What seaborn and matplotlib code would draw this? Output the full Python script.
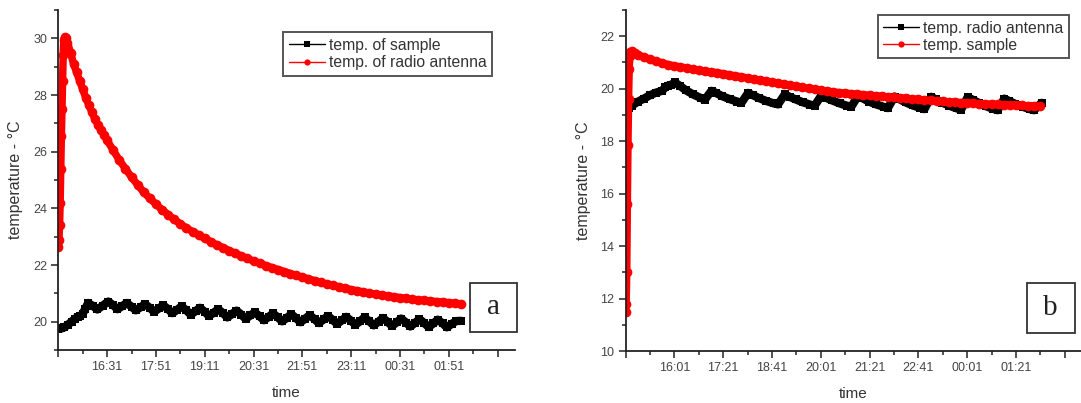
import matplotlib
matplotlib.use("Agg")
import matplotlib.pyplot as plt
import seaborn as sns
import pandas as pd
from matplotlib.ticker import FixedLocator, MultipleLocator
from matplotlib.patches import Rectangle

# ---------------- data (minutes after the start of logging, degrees C) ----------------
# panel a: start of logging 15:11
a_sample_min = [0, 5, 10, 16, 22, 27, 32, 36, 40, 44, 49,
                57, 64, 73, 82, 90, 97, 105, 112, 120, 127, 135, 142, 150, 157,
                165, 172, 180, 187, 195, 202, 210, 217, 225, 232, 240, 247, 255,
                262, 270, 277, 285, 292, 300, 307, 315, 322, 330, 337, 345, 352,
                360, 367, 375, 382, 390, 397, 405, 412, 420, 427, 435, 442, 450,
                457, 465, 472, 480, 487, 495, 502, 510, 517, 525, 532, 540, 547,
                555, 562, 570, 577, 585, 592, 600, 607, 615, 622, 630, 637, 645,
                652, 660]
a_sample_temp = [19.75, 19.76, 19.80, 19.90, 20.00, 20.10, 20.17, 20.20, 20.28, 20.45, 20.66,
                 20.55, 20.43, 20.57, 20.71, 20.58, 20.44, 20.55, 20.66, 20.53, 20.40, 20.51,
                 20.62, 20.49, 20.35, 20.47, 20.58, 20.44, 20.30, 20.42, 20.54, 20.40, 20.25,
                 20.37, 20.49, 20.35, 20.20, 20.32, 20.44, 20.30, 20.15, 20.27, 20.39, 20.25,
                 20.10, 20.22, 20.33, 20.19, 20.05, 20.17, 20.29, 20.15, 20.01, 20.14, 20.26,
                 20.12, 19.98, 20.11, 20.23, 20.09, 19.95, 20.08, 20.20, 20.06, 19.92, 20.05,
                 20.17, 20.03, 19.89, 20.02, 20.15, 20.01, 19.87, 20.00, 20.13, 19.99, 19.85,
                 19.98, 20.11, 19.97, 19.83, 19.96, 20.09, 19.95, 19.81, 19.94, 20.07, 19.94,
                 19.80, 19.92, 20.02, 20.03]

a_antenna_min = [0, 1, 2, 3, 4, 5, 6, 7, 8, 9, 11, 13, 15, 20, 25, 30, 35, 40, 45, 50,
                 55, 60, 65, 70, 75, 80, 90, 100, 110, 120, 130, 140, 150, 160, 170, 180,
                 190, 200, 210, 220, 230, 240, 250, 260, 270, 280, 290, 300, 310, 320,
                 330, 340, 350, 360, 370, 380, 390, 400, 410, 420, 430, 440, 450, 460,
                 470, 480, 490, 500, 510, 520, 530, 540, 550, 560, 570, 580, 590, 600,
                 610, 620, 630, 640, 650, 660]
a_antenna_temp = [22.65, 22.90, 23.40, 24.20, 25.40, 26.55, 27.50, 28.50, 29.40, 29.95,
                  30.05, 30.00, 29.85, 29.50, 29.10, 28.80, 28.50, 28.20, 27.90, 27.65,
                  27.40, 27.15, 26.95, 26.75, 26.60, 26.40, 26.05, 25.70, 25.40, 25.10,
                  24.83, 24.57, 24.35, 24.15, 23.95, 23.78, 23.61, 23.45, 23.31, 23.18,
                  23.06, 22.94, 22.82, 22.71, 22.61, 22.51, 22.41, 22.32, 22.23, 22.14,
                  22.06, 21.98, 21.91, 21.84, 21.77, 21.70, 21.63, 21.57, 21.51, 21.45,
                  21.39, 21.33, 21.28, 21.23, 21.18, 21.13, 21.09, 21.05, 21.01, 20.97,
                  20.94, 20.91, 20.88, 20.85, 20.82, 20.79, 20.77, 20.75, 20.73, 20.71,
                  20.69, 20.67, 20.65, 20.62]

a_tick_labels = ["", "16:31", "17:51", "19:11", "20:31", "21:51", "23:11", "00:31", "01:51", ""]

# panel b: start of logging 14:41
b_antenna_min = [0, 5, 10, 20, 30, 40, 50, 60, 65, 70, 75, 81,
                 89, 99, 111, 123, 130,
                 141, 149, 159, 171, 183, 190,
                 201, 209, 219, 231, 243, 250,
                 261, 269, 279, 291, 303, 310,
                 321, 329, 339, 351, 363, 370,
                 381, 389, 399, 411, 423, 430,
                 441, 449, 459, 471, 483, 490,
                 501, 509, 519, 531, 543, 550,
                 561, 569, 579, 591, 603, 610,
                 621, 629, 639, 651, 663, 670, 677, 682]
b_antenna_temp = [19.15, 19.25, 19.35, 19.50, 19.62, 19.75, 19.85, 19.92, 20.05, 20.12, 20.15, 20.24,
                  20.11, 19.94, 19.78, 19.65, 19.58,
                  19.92, 19.83, 19.71, 19.60, 19.51, 19.46,
                  19.84, 19.75, 19.64, 19.53, 19.44, 19.40,
                  19.78, 19.69, 19.59, 19.48, 19.39, 19.35,
                  19.74, 19.65, 19.55, 19.44, 19.35, 19.31,
                  19.72, 19.63, 19.51, 19.40, 19.31, 19.26,
                  19.70, 19.60, 19.48, 19.36, 19.27, 19.22,
                  19.69, 19.59, 19.47, 19.35, 19.25, 19.20,
                  19.68, 19.58, 19.46, 19.33, 19.23, 19.18,
                  19.62, 19.53, 19.42, 19.31, 19.22, 19.18, 19.35, 19.46]

b_sample_min = [0, 1, 2, 3, 4, 5, 6, 7, 8, 10, 15, 20, 30, 40, 50, 60, 70, 80, 90, 100,
                110, 120, 130, 140, 150, 160, 170, 180, 190, 200, 210, 220, 230, 240,
                250, 260, 270, 280, 290, 300, 310, 320, 330, 340, 350, 360, 370, 380,
                390, 400, 410, 420, 430, 440, 450, 460, 470, 480, 490, 500, 510, 520,
                530, 540, 550, 560, 570, 580, 590, 600, 610, 620, 630, 640, 650, 660,
                670, 680]
b_sample_temp = [11.50, 11.80, 13.00, 15.60, 17.85, 19.60, 20.75, 21.25, 21.40, 21.42,
                 21.35, 21.30, 21.20, 21.12, 21.05, 20.98, 20.92, 20.87, 20.83, 20.79,
                 20.75, 20.71, 20.67, 20.64, 20.61, 20.57, 20.53, 20.49, 20.45, 20.41,
                 20.37, 20.33, 20.29, 20.25, 20.21, 20.17, 20.13, 20.09, 20.05, 20.01,
                 19.97, 19.94, 19.91, 19.88, 19.85, 19.83, 19.81, 19.79, 19.77, 19.75,
                 19.73, 19.71, 19.69, 19.67, 19.65, 19.63, 19.61, 19.59, 19.57, 19.55,
                 19.53, 19.52, 19.50, 19.49, 19.47, 19.46, 19.44, 19.43, 19.42, 19.41,
                 19.40, 19.39, 19.38, 19.37, 19.36, 19.35, 19.34, 19.33]

b_tick_labels = ["", "16:01", "17:21", "18:41", "20:01", "21:21", "22:41", "00:01", "01:21", ""]

# ---------------- style ----------------
sns.set_style("ticks")
plt.rcParams["font.family"] = ["Liberation Sans", "DejaVu Sans"]

W, H = 1081, 403
fig = plt.figure(figsize=(W / 100, H / 100), dpi=100)

def px_axes(x0, x1, ytop, ybot):
    return fig.add_axes([x0 / W, (H - ybot) / H, (x1 - x0) / W, (ybot - ytop) / H])

ax_a = px_axes(58.3, 514.6, 10, 350)
ax_b = px_axes(625.5, 1081.8, 10, 351)

# dense logged points: a heavy trace with markers on every reading
black_kw = dict(linewidth=6.0, markersize=5.6, markeredgewidth=0, sort=False,
                solid_joinstyle="round", solid_capstyle="round")
red_kw = dict(linewidth=5.4, markersize=7.0, markeredgewidth=0, sort=False,
              solid_joinstyle="round", solid_capstyle="round")

def draw(ax, x1, y1, lab1, x2, y2, lab2):
    sns.lineplot(data=pd.DataFrame({"t": x1, "T": y1}), x="t", y="T", ax=ax,
                 color="black", marker="s", label=lab1, **black_kw)
    sns.lineplot(data=pd.DataFrame({"t": x2, "T": y2}), x="t", y="T", ax=ax,
                 color="#ff0000", marker="o", label=lab2, **red_kw)

draw(ax_a, a_sample_min, a_sample_temp, "temp. of sample",
     a_antenna_min, a_antenna_temp, "temp. of radio antenna")
draw(ax_b, b_antenna_min, b_antenna_temp, "temp. radio antenna",
     b_sample_min, b_sample_temp, "temp. sample")

def style_axes(ax, ylim, tick_labels):
    ax.set_xlim(0, 748)
    ax.set_ylim(*ylim)
    ax.xaxis.set_major_locator(FixedLocator(range(0, 721, 80)))
    ax.set_xticklabels(tick_labels)
    ax.xaxis.set_minor_locator(MultipleLocator(40))
    ax.yaxis.set_major_locator(MultipleLocator(2))
    ax.yaxis.set_minor_locator(MultipleLocator(1))
    ax.tick_params(which="major", length=5, width=1.1, color="#222222",
                   labelsize=9, labelcolor="#444444", pad=3)
    ax.tick_params(which="minor", length=2.6, width=1.1, color="#222222")
    for s in ("top", "right"):
        ax.spines[s].set_visible(False)
    for s in ("left", "bottom"):
        ax.spines[s].set_linewidth(1.3)
        ax.spines[s].set_color("#222222")
    ax.set_xlabel("time", fontsize=11, color="#333333", labelpad=9)
    ax.set_ylabel("temperature - °C", fontsize=11.5, color="#333333", labelpad=7)

style_axes(ax_a, (19.0, 31.0), a_tick_labels)
style_axes(ax_b, (10.0, 23.0), b_tick_labels)

def style_legend(ax, anchor):
    leg = ax.legend(loc="upper left", bbox_to_anchor=anchor, frameon=True,
                    fancybox=False, fontsize=11.3, handlelength=2.3,
                    handletextpad=0.25, labelspacing=0.15, borderpad=0.35,
                    borderaxespad=0)
    fr = leg.get_frame()
    fr.set_edgecolor("#555555")
    fr.set_linewidth(1.4)
    fr.set_alpha(1)
    for h in leg.get_lines():
        h.set_linewidth(1.0)
        h.set_markersize(4.5)
    for t in leg.get_texts():
        t.set_color("#333333")

style_legend(ax_a, (0.493, 0.934))
style_legend(ax_b, (0.553, 0.985))

def panel_tag(x0, x1, ytop, ybot, letter):
    fig.add_artist(Rectangle((x0 / W, (H - ybot) / H), (x1 - x0) / W, (ybot - ytop) / H,
                             transform=fig.transFigure, fill=False,
                             edgecolor="#333333", linewidth=1.3))
    fig.text((x0 + x1) / 2 / W, (H - (ytop + ybot) / 2) / H, letter,
             family="Liberation Serif", fontsize=21, ha="center", va="center",
             color="#222222")

panel_tag(470, 517, 283, 332, "a")
panel_tag(1027, 1074.5, 283, 333, "b")

fig.savefig("out.png", dpi=100)
